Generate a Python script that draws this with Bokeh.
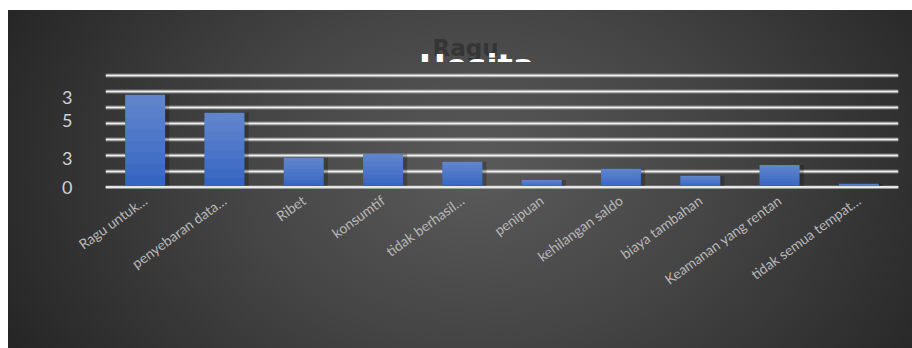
import math
from bokeh.plotting import figure
from bokeh.layouts import column
from bokeh.models import FixedTicker, Grid, Span, ColumnDataSource, Range1d, FactorRange
from bokeh.transform import dodge
from bokeh.core.properties import value
from bokeh.embed import file_html
from bokeh.resources import INLINE

# ---- data ----
categories = ["Ragu untuk…", "penyebaran data…", "Ribet", "konsumtif",
              "tidak berhasil…", "penipuan", "kehilangan saldo",
              "biaya tambahan", "Keamanan yang rentan", "tidak semua tempat…"]
counts = [29, 23.3, 9.2, 10.5, 8, 2.3, 5.8, 3.6, 7, 1.1]
grid_values = [0, 5, 10, 15, 20, 25, 30, 35]
ytick_values = [0, 9, 21, 28]
ytick_labels = ["0", "3", "5", "3"]
title_top = "Ragu"
title_bottom = "Hesita"

W = 912
TFONT = value("DejaVu Sans")

# ---- title strip (clips the lower half of the second title line) ----
t = figure(width=W, height=62, x_range=Range1d(0, W), y_range=Range1d(0, 62),
           output_backend="svg", toolbar_location=None,
           x_axis_location=None, y_axis_location=None, min_border=0,
           background_fill_alpha=0, border_fill_alpha=0, outline_line_color=None)
t.grid.visible = False
t.text(x=[414], y=[15], text=[title_top], text_font=TFONT, text_font_size="23px",
       text_font_style="bold", text_color="#353535", text_align="center",
       text_baseline="alphabetic")
t.text(x=[427], y=[16], text=[title_bottom], text_font=TFONT, text_font_size="32px",
       text_font_style="bold", text_color="#ffffff", text_align="center",
       text_baseline="top")

# ---- main chart ----
p = figure(width=W, height=286, x_range=FactorRange(*categories),
           y_range=Range1d(-0.4, 37.2), output_backend="svg", toolbar_location=None,
           min_border_left=105, min_border_right=14, min_border_top=6, min_border_bottom=160,
           background_fill_alpha=0, border_fill_alpha=0, outline_line_color=None)

p.xgrid.visible = False
p.ygrid.visible = False
halo = Grid(dimension=1, ticker=FixedTicker(ticks=grid_values),
            grid_line_color="#ffffff", grid_line_alpha=0.22, grid_line_width=4.5)
core = Grid(dimension=1, ticker=FixedTicker(ticks=grid_values),
            grid_line_color="#eeeeee", grid_line_width=2)
p.add_layout(halo, "center")
p.add_layout(core, "center")

src = ColumnDataSource(dict(cat=categories, val=counts))
# soft shadow
p.vbar(x=dodge("cat", 0.045, range=p.x_range), top="val", bottom=0, width=0.52,
       source=src, fill_color="#000000", fill_alpha=0.22, line_color=None)
# bar body
p.vbar(x="cat", top="val", bottom=0, width=0.505, source=src,
       fill_color="#2f60bf", line_color=None)
# vertical gradient overlays
N = 8
for k in range(N):
    frac = k / N
    p.vbar(x=categories, top=counts, bottom=[v * frac for v in counts], width=0.505,
           fill_color="#ffffff", fill_alpha=0.034, line_color=None)

p.add_layout(Span(location=0, dimension="width", line_color="#e6e6e6",
                  line_width=2.5, level="overlay"))

p.yaxis.ticker = FixedTicker(ticks=ytick_values)
p.yaxis.major_label_overrides = {v: s for v, s in zip(ytick_values, ytick_labels)}
p.yaxis.axis_line_color = None
p.yaxis.major_tick_line_color = None
p.yaxis.minor_tick_line_color = None
p.yaxis.major_label_standoff = 27
p.yaxis.major_label_text_font = "Lato"
p.yaxis.major_label_text_font_size = "18px"
p.yaxis.major_label_text_color = "#d2d2d2"

p.xaxis.axis_line_color = None
p.xaxis.major_tick_line_color = None
p.xaxis.minor_tick_line_color = None
p.xaxis.major_label_orientation = math.radians(36)
p.xaxis.major_label_standoff = 4
p.xaxis.major_label_text_font = "Lato"
p.xaxis.major_label_text_font_size = "14px"
p.xaxis.major_label_text_color = "#b8b8b8"

layout = column(t, p, spacing=0, styles={
    "background": "radial-gradient(ellipse 58% 110% at 52% 48%, #5a5a5a 0%, #454545 45%, #262626 100%) "
                  "8px 10px / 904px 338px no-repeat, #ffffff"
})

open("out.html", "w").write(file_html(layout, INLINE))
